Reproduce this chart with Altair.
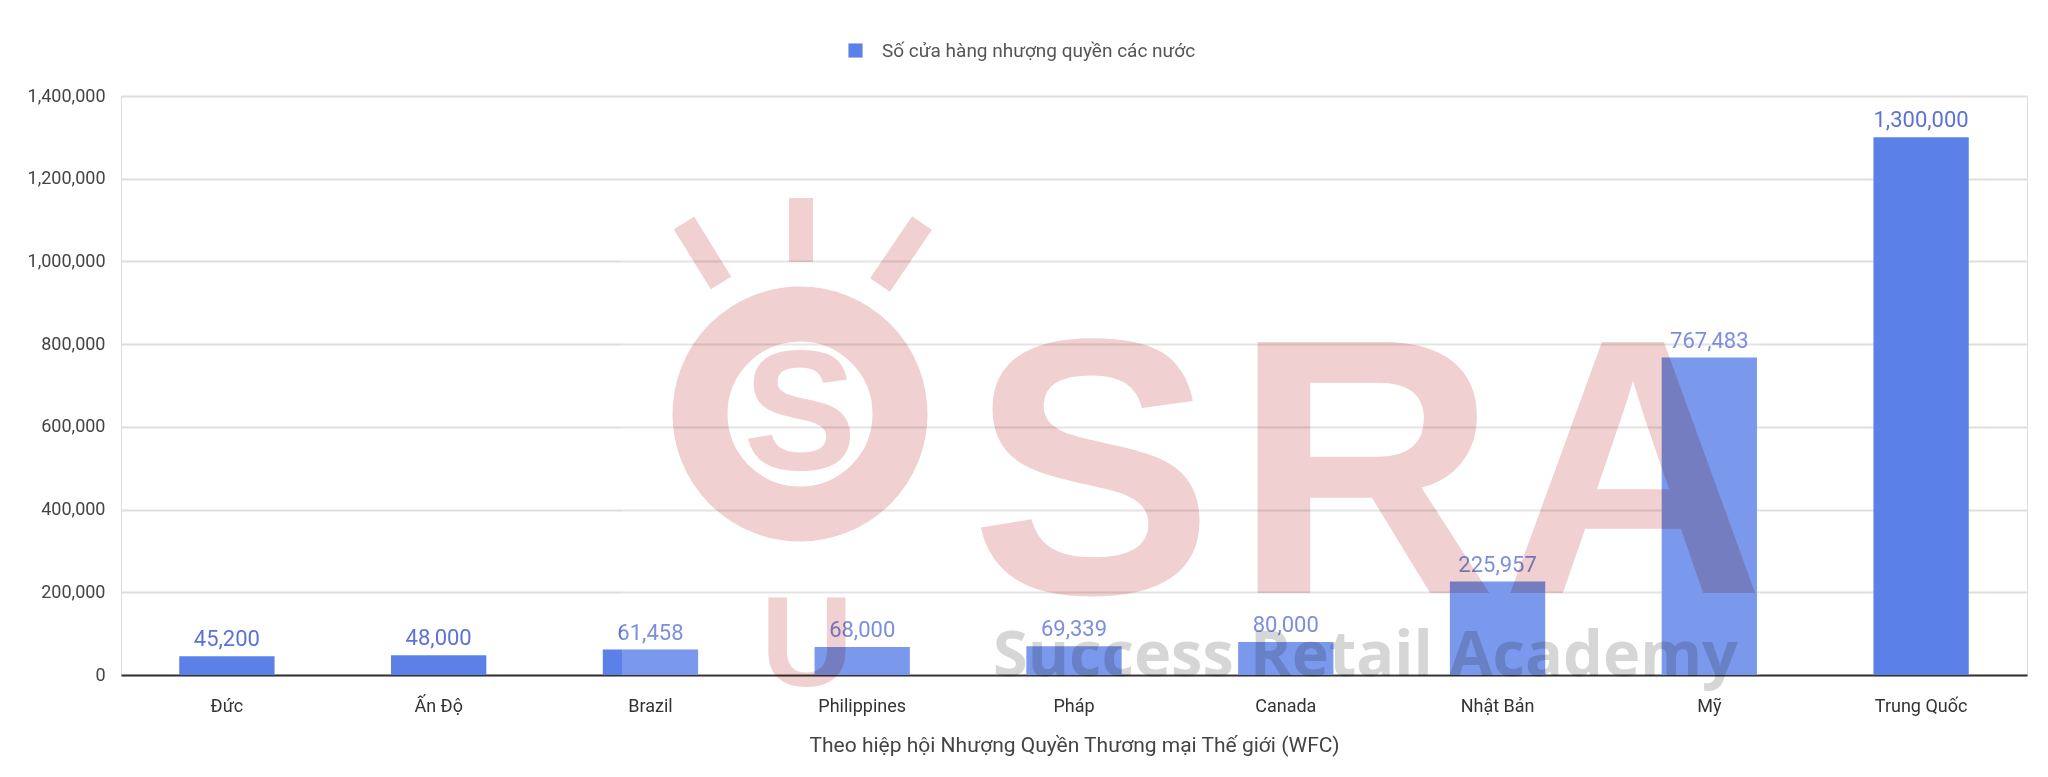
import altair as alt
import pandas as pd

countries = ["Đức", "Ấn Độ", "Brazil", "Philippines", "Pháp", "Canada", "Nhật Bản", "Mỹ", "Trung Quốc"]
stores = [45200, 48000, 61458, 68000, 69339, 80000, 225957, 767483, 1300000]
series_name = "Số cửa hàng nhượng quyền các nước"
y_ticks = [0, 200000, 400000, 600000, 800000, 1000000, 1200000, 1400000]
x_title = "Theo hiệp hội Nhượng Quyền Thương mại Thế giới (WFC)"

df = pd.DataFrame({"country": countries, "stores": stores, "series": [series_name] * len(countries)})
one = pd.DataFrame({"k": [0]})

BAR = "#5b80e8"
PINK = "#f0d0d0"
FONT = "Roboto"
WM_FONT = "Liberation Sans"

x_enc = alt.X(
    "country:N", sort=countries,
    scale=alt.Scale(paddingInner=0.55, paddingOuter=0.275),
    axis=alt.Axis(title=x_title, labelAngle=0, labelFontSize=18, labelColor="#333",
                  labelPadding=22, ticks=False, domainColor="#333", domainWidth=2,
                  titleFontSize=21, titleColor="#444", titleFontWeight="normal",
                  titlePadding=19, labelFont=FONT, titleFont=FONT),
)
y_enc = alt.Y(
    "stores:Q", scale=alt.Scale(domain=[0, 1400000], nice=False),
    axis=alt.Axis(values=y_ticks, format=",d", title=None, labelFontSize=18, labelColor="#444",
                  labelPadding=16, ticks=False, domain=False, gridColor="#dedede",
                  gridWidth=2, labelFont=FONT),
)

bars = alt.Chart(df).mark_bar().encode(
    x=x_enc, y=y_enc,
    color=alt.Color("series:N", scale=alt.Scale(range=[BAR]),
                    legend=alt.Legend(title=None, orient="none", legendX=725, legendY=-55,
                                      symbolType="square", symbolSize=200, labelFontSize=19,
                                      labelColor="#555", labelFont=FONT, symbolStrokeWidth=0,
                                      labelLimit=0, labelOffset=17)),
)
labels = alt.Chart(df).mark_text(baseline="bottom", dy=-5, fontSize=22, color="#5c72d6", font=FONT).encode(
    x=alt.X("country:N", sort=countries), y="stores:Q", text=alt.Text("stores:Q", format=",d")
)

# watermark (decoration, not data)
veil = alt.Chart(one).mark_rect(color="white", opacity=0.2).encode(
    x=alt.value(501), x2=alt.value(1639), y=alt.value(94), y2=alt.value(579))


def letter(ch, cx):
    return alt.Chart(one).mark_text(text=ch, font=WM_FONT, fontWeight="bold", fontSize=365,
                                    align="center", baseline="alphabetic", color=PINK,
                                    blend="multiply").encode(x=alt.value(cx), y=alt.value(497))


s_l = letter("S", 971)
r_l = letter("R", 1244)
a_l = letter("A", 1512)
academy = alt.Chart(one).mark_text(text="Success Retail Academy", font="Open Sans", fontWeight="bold",
                                   fontSize=63, align="left", baseline="alphabetic", color="#d6d6d6",
                                   blend="multiply").encode(x=alt.value(872), y=alt.value(580))
ring = alt.Chart(one).mark_point(shape="circle", filled=False, size=40000, strokeWidth=55,
                                 color=PINK, opacity=1, blend="multiply").encode(
    x=alt.value(679), y=alt.value(318))
inner_s = alt.Chart(one).mark_text(text="S", font="Liberation Sans", fontWeight="bold", fontSize=170,
                                   align="center", baseline="middle", color=PINK, blend="multiply").encode(
    x=alt.value(679), y=alt.value(322))
stem = alt.Chart(one).mark_text(text="U", font="Liberation Sans", fontWeight="bold", fontSize=128,
                                align="center", baseline="alphabetic", color=PINK, blend="multiply").encode(
    x=alt.value(686), y=alt.value(590))
ray1 = alt.Chart(one).mark_rule(color=PINK, strokeWidth=24, blend="multiply").encode(
    x=alt.value(563), y=alt.value(127), x2=alt.value(600), y2=alt.value(187))
ray2 = alt.Chart(one).mark_rule(color=PINK, strokeWidth=24, blend="multiply").encode(
    x=alt.value(680), y=alt.value(102), x2=alt.value(680), y2=alt.value(166))
ray3 = alt.Chart(one).mark_rule(color=PINK, strokeWidth=24, blend="multiply").encode(
    x=alt.value(801), y=alt.value(127), x2=alt.value(759), y2=alt.value(189))

chart = alt.layer(bars, labels, veil, ring, inner_s, stem, ray1, ray2, ray3, s_l, r_l, a_l, academy).properties(
    width=1906, height=579,
    autosize=alt.AutoSizeParams(type="none"),
    padding={"left": 113, "top": 88, "right": 13, "bottom": 94},
).configure_view(stroke=None).configure(background="white")

chart.save("out.html", embed_options={"renderer": "svg", "actions": False})
